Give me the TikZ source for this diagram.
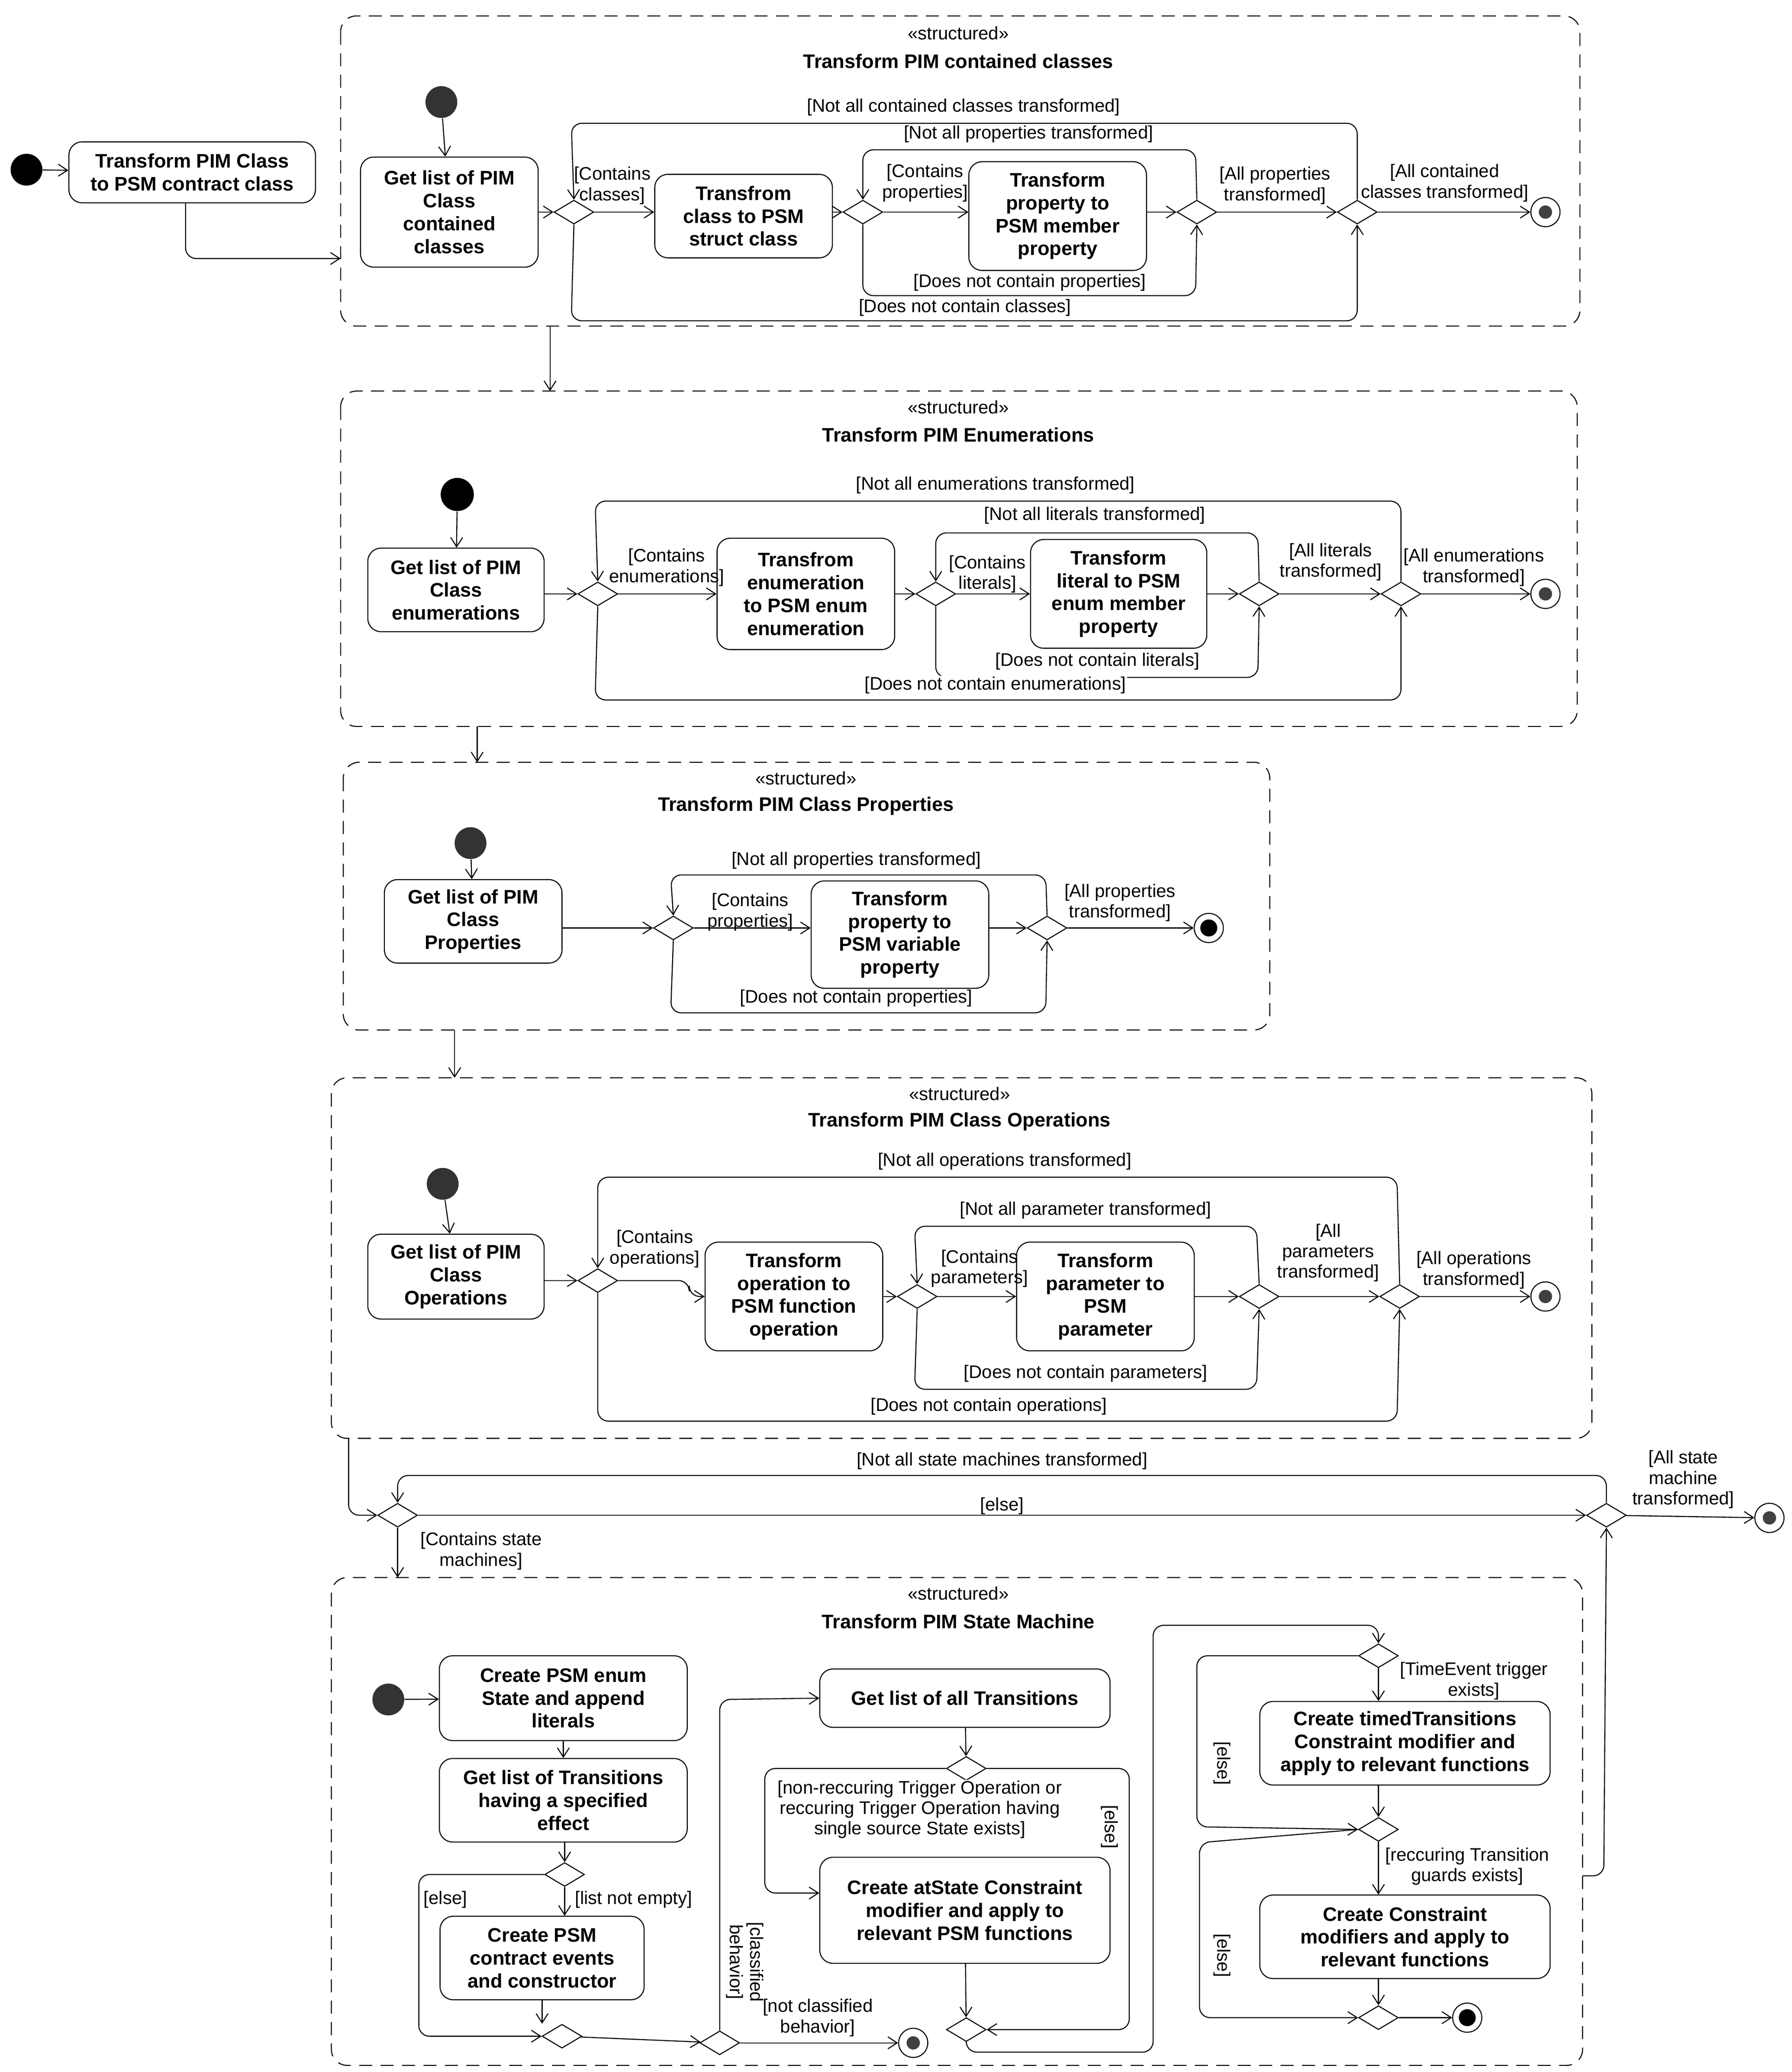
\documentclass[tikz,border=0pt]{standalone}
\usepackage{fontspec}
\setmainfont{Liberation Sans}
\usetikzlibrary{shapes.geometric,arrows.meta}
\begin{document}
\begin{tikzpicture}[x=0.05cm,y=-0.05cm,
 line width=1.1pt,
 flow/.style={-{Straight Barb[length=0.35cm,width=0.45cm]},rounded corners=0.4cm},
 act/.style 2 args={draw,rounded corners=0.5cm,align=center,inner sep=2pt,
   font=\fontsize{21}{24.5}\selectfont\bfseries,minimum width=#1*0.05cm,minimum height=#2*0.05cm},
 dec/.style={diamond,draw,fill=white,minimum width=1.5cm,minimum height=0.9cm,inner sep=0pt},
 init/.style={circle,fill=black!80,minimum size=1.2cm,inner sep=0pt},
 fin/.style={circle,draw,fill=white,minimum size=1.1cm,inner sep=0pt,
   path picture={\fill[black!75] (path picture bounding box.center) circle (0.25cm);}},
 finb/.style={circle,draw,fill=white,minimum size=1.1cm,inner sep=0pt,
   path picture={\fill[black] (path picture bounding box.center) circle (0.32cm);}},
 region/.style={draw,dashed,dash pattern=on 14pt off 9pt,rounded corners=0.6cm},
 lab/.style={align=center,font=\fontsize{19.5}{22}\selectfont,inner sep=1pt},
 ster/.style={font=\fontsize{19.5}{22}\selectfont},
 ttl/.style={font=\fontsize{21}{24}\selectfont\bfseries}
]
\useasboundingbox (0,0) rectangle (1352,1563);

% ---------- top
\node[circle,fill=black,minimum size=1.2cm,inner sep=0] (i0) at (20,128) {};
\node[act={186}{46}] (b0) at (145,130) {Transform PIM Class\\to PSM contract class};
\draw[flow] (i0) -- (b0);

% ---------- region 1
\draw[region] (257,12) rectangle (1192,246);
\node[coordinate] (r1) at (724,129) {};
\node[ster] (s1) at (723,25) {«structured»};
\node[ttl] (t1) at (723,46) {Transform PIM contained classes};
\draw[flow] (b0.south -| 140,0) |- (257,195);
\node[init] (i1) at (333,77) {};
\node[act={134}{83}] (b1) at (339,160) {Get list of PIM\\Class\\contained\\classes};
\draw[flow] (i1) -- (b1);
\node[dec] (d1) at (433,160) {};
\node[act={134}{63}] (b2) at (561,163) {Transfrom\\class to PSM\\struct class};
\node[dec] (d2) at (651,160) {};
\node[act={134}{82}] (b3) at (798,163) {Transform\\property to\\PSM member\\property};
\node[dec] (d3) at (903,160) {};
\node[dec] (d4) at (1024,160) {};
\node[fin] (f1) at (1166,160) {};
\draw[flow] (b1.east |- d1) -- (d1);
\draw[flow] (d1) -- (d1 -| b2.west);
\draw[flow] (b2.east |- d2) -- (d2);
\draw[flow] (d2) -- (d2 -| b3.west);
\draw[flow] (b3.east |- d3) -- (d3);
\draw[flow] (d3) -- (d4);
\draw[flow] (d4) -- (f1);
\draw[flow] (d4.north) -- (1024,93) -- (431,93) -- (d1.north);
\draw[flow] (d1.south) -- (431,242) -- (1024,242) -- (d4.south);
\draw[flow] (d3.north) -- (902,113) -- (651,113) -- (d2.north);
\draw[flow] (d2.south) -- (651,223) -- (902,223) -- (d3.south);
\node[lab] at (727,81) {[Not all contained classes transformed]};
\node[lab] at (776,101) {[Not all properties transformed]};
\node[lab] at (462,140) {[Contains\\classes]};
\node[lab] at (698,138) {[Contains\\properties]};
\node[lab] at (962,140) {[All properties\\transformed]};
\node[lab] at (1090,138) {[All contained\\classes transformed]};
\node[lab,fill=white] at (777,213) {[Does not contain properties]};
\node[lab,fill=white] at (728,232) {[Does not contain classes]};

% ---------- region 2
\draw[region] (257,295) rectangle (1190,548);
\draw[flow] (415,246) -- (415,295);
\node[ster] at (723,307) {«structured»};
\node[ttl] at (723,328) {Transform PIM Enumerations};
\node[circle,fill=black,minimum size=1.25cm,inner sep=0] (i2) at (345,373) {};
\node[act={133}{63}] (b4) at (344,445) {Get list of PIM\\Class\\enumerations};
\draw[flow] (i2) -- (b4);
\node[dec] (d5) at (451,448) {};
\node[act={134}{84}] (b5) at (608,448) {Transfrom\\enumeration\\to PSM enum\\enumeration};
\node[dec] (d6) at (706,448) {};
\node[act={133}{82}] (b6) at (844,448) {Transform\\literal to PSM\\enum member\\property};
\node[dec] (d7) at (950,448) {};
\node[dec] (d8) at (1057,448) {};
\node[fin] (f2) at (1166,448) {};
\draw[flow] (b4.east |- d5) -- (d5);
\draw[flow] (d5) -- (b5);
\draw[flow] (b5) -- (d6);
\draw[flow] (d6) -- (b6);
\draw[flow] (b6) -- (d7);
\draw[flow] (d7) -- (d8);
\draw[flow] (d8) -- (f2);
\draw[flow] (d8.north) -- (1057,378) -- (449,378) -- (d5.north);
\draw[flow] (d5.south) -- (449,528) -- (1057,528) -- (d8.south);
\draw[flow] (d7.north) -- (949,402) -- (706,402) -- (d6.north);
\draw[flow] (d6.south) -- (706,511) -- (949,511) -- (d7.south);
\node[lab] at (751,366) {[Not all enumerations transformed]};
\node[lab] at (826,389) {[Not all literals transformed]};
\node[lab] at (503,428) {[Contains\\enumerations]};
\node[lab] at (745,433) {[Contains\\literals]};
\node[lab] at (1004,424) {[All literals\\transformed]};
\node[lab] at (1112,428) {[All enumerations\\transformed]};
\node[lab,fill=white] at (828,499) {[Does not contain literals]};
\node[lab,fill=white] at (751,517) {[Does not contain enumerations]};

% ---------- region 3
\draw[region] (259,575) rectangle (958,777);
\draw[flow] (360,548) -- (360,575);
\node[ster] at (608,587) {«structured»};
\node[ttl] at (608,608) {Transform PIM Class Properties};
\node[init] (i3) at (355,636) {};
\node[act={134}{63}] (b7) at (357,695) {Get list of PIM\\Class\\Properties};
\draw[flow] (i3) -- (b7);
\node[dec] (d9) at (508,700) {};
\node[act={134}{81}] (b8) at (679,705) {Transform\\property to\\PSM variable\\property};
\node[dec] (d10) at (790,700) {};
\node[finb] (f3) at (912,700) {};
\draw[flow] (b7.east |- d9) -- (d9);
\draw[flow] (d9) -- (d9 -| b8.west);
\draw[flow] (b8.east |- d10) -- (d10);
\draw[flow] (d10) -- (f3);
\draw[flow] (d10.north) -- (789,660) -- (506,660) -- (d9.north);
\draw[flow] (d9.south) -- (506,764) -- (789,764) -- (d10.south);
\node[lab] at (646,649) {[Not all properties transformed]};
\node[lab] at (566,688) {[Contains\\properties]};
\node[lab] at (845,681) {[All properties\\transformed]};
\node[lab,fill=white] at (646,753) {[Does not contain properties]};

% ---------- region 4
\draw[region] (250,813) rectangle (1201,1085);
\draw[flow] (343,777) -- (343,813);
\node[ster] at (724,825) {«structured»};
\node[ttl] at (724,846) {Transform PIM Class Operations};
\node[init] (i4) at (334,893) {};
\node[act={133}{64}] (b9) at (344,963) {Get list of PIM\\Class\\Operations};
\draw[flow] (i4) -- (b9);
\node[dec] (d11) at (451,966) {};
\node[act={134}{82}] (b10) at (599,978) {Transform\\operation to\\PSM function\\operation};
\node[dec] (d12) at (692,978) {};
\node[act={134}{82}] (b11) at (834,978) {Transform\\parameter to\\PSM\\parameter};
\node[dec] (d13) at (950,978) {};
\node[dec] (d14) at (1056,978) {};
\node[fin] (f4) at (1166,978) {};
\draw[flow] (b9.east |- d11) -- (d11);
\draw[flow] (d11.east) -- (520,966) -- (520,978) -- (b10.west);
\draw[flow] (b10) -- (d12);
\draw[flow] (d12) -- (b11);
\draw[flow] (b11) -- (d13);
\draw[flow] (d13) -- (d14);
\draw[flow] (d14) -- (f4);
\draw[flow] (d14.north) -- (1054,888) -- (451,888) -- (d11.north);
\draw[flow] (d11.south) -- (451,1072) -- (1054,1072) -- (d14.south);
\draw[flow] (d13.north) -- (948,925) -- (690,925) -- (d12.north);
\draw[flow] (d12.south) -- (690,1048) -- (948,1048) -- (d13.south);
\node[lab] at (758,876) {[Not all operations transformed]};
\node[lab] at (819,913) {[Not all parameter transformed]};
\node[lab] at (494,942) {[Contains\\operations]};
\node[lab] at (739,957) {[Contains\\parameters]};
\node[lab] at (1002,945) {[All\\parameters\\transformed]};
\node[lab] at (1112,958) {[All operations\\transformed]};
\node[lab,fill=white] at (819,1036) {[Does not contain parameters]};
\node[lab,fill=white] at (746,1061) {[Does not contain operations]};

% ---------- state machines loop
\node[dec] (d15) at (300,1143) {};
\node[dec] (d16) at (1212,1143) {};
\node[fin] (f7) at (1335,1145) {};
\draw[flow] (263,1085) -- (263,1143) -- (d15.west);
\draw[flow] (d15) -- (d16);
\draw[flow] (d16.north) -- (1212,1113) -- (300,1113) -- (d15.north);
\draw[flow] (d16) -- (f7);
\draw[flow] (d15.south) -- (300,1190);
\node[lab] at (756,1102) {[Not all state machines transformed]};
\node[lab] at (756,1136) {[else]};
\node[lab] at (1270,1116) {[All state\\machine\\transformed]};
\node[lab] at (363,1170) {[Contains state\\machines]};

% ---------- region 5
\draw[region] (250,1190) rectangle (1194,1558);
\node[ster] at (723,1202) {«structured»};
\node[ttl] at (723,1223) {Transform PIM State Machine};
\node[init] (i5) at (293,1282) {};
\node[act={187}{64}] (c1) at (425,1281) {Create PSM enum\\State and append\\literals};
\node[act={187}{63}] (c2) at (425,1358) {Get list of Transitions\\having a specified\\effect};
\node[dec] (d17) at (426,1414) {};
\node[act={154}{63}] (c3) at (409,1477) {Create PSM\\contract events\\and constructor};
\node[dec] (d18) at (424,1536) {};
\node[dec] (d19) at (543,1541) {};
\node[fin] (f5) at (689,1541) {};
\draw[flow] (i5) -- (c1);
\draw[flow] (c1) -- (c2);
\draw[flow] (c2.south -| d17) -- (d17);
\draw[flow] (d17) -- (d17 |- c3.north);
\draw[flow] (d17.west) -- (316,1414) -- (316,1536) -- (d18.west);
\draw[flow] (c3.south) -- (c3.south |- d18.north);
\draw[flow] (d18) -- (d19);
\draw[flow] (d19) -- (f5);
\node[lab] at (336,1433) {[else]};
\node[lab] at (478,1433) {[list not empty]};
\node[lab] at (617,1522) {[not classified\\behavior]};
\node[lab,rotate=-90] at (562,1480) {[classified\\behavior]};
\node[act={219}{44}] (c4) at (728,1281) {Get list of all Transitions};
\draw[flow] (d19.north) -- (543,1282) -- (c4.west);
\node[dec] (d20) at (729,1334) {};
\node[act={219}{80}] (c5) at (728,1441) {Create atState Constraint\\modifier and apply to\\relevant PSM functions};
\node[dec] (d21) at (729,1531) {};
\draw[flow] (c4) -- (d20);
\draw[flow] (d20.west) -- (577,1334) -- (577,1428) -- (c5.west |- 0,1428);
\draw[flow] (d20.east) -- (852,1334) -- (852,1531) -- (d21.east);
\draw[flow] (c5) -- (d21);
\node[lab,fill=white] at (694,1365) {[non-reccuring Trigger Operation or\\reccuring Trigger Operation having\\single source State exists]};
\node[lab,rotate=-90] at (837,1378) {[else]};
\node[dec] (d22) at (1040,1249) {};
\node[act={219}{63}] (c6) at (1060,1315) {Create timedTransitions\\Constraint modifier and\\apply to relevant functions};
\node[dec] (d23) at (1040,1380) {};
\node[act={219}{63}] (c7) at (1060,1461) {Create Constraint\\modifiers and apply to\\relevant functions};
\node[dec] (d24) at (1040,1522) {};
\node[finb] (f6) at (1107,1522) {};
\draw[flow] (d21.south) -- (729,1548) -- (870,1548) -- (870,1226) -- (1040,1226) -- (d22.north);
\draw[flow] (d22) -- (d22 |- c6.north);
\draw[flow] (d22.west) -- (903,1249) -- (903,1378) -- (d23.west);
\draw[flow] (d22 |- c6.south) -- (d23);
\draw[flow] (d23) -- (d23 |- c7.north);
\draw[flow] (d23.west) -- (905,1390) -- (905,1522) -- (d24.west);
\draw[flow] (d24 |- c7.south) -- (d24);
\draw[flow] (d24) -- (f6);
\draw[flow] (1194,1415) -- (1210,1415) -- (d16.south);
\node[lab] at (1112,1268) {[TimeEvent trigger\\exists]};
\node[lab] at (1107,1408) {[reccuring Transition\\guards exists]};
\node[lab,rotate=-90] at (922,1330) {[else]};
\node[lab,rotate=-90] at (922,1475) {[else]};
\end{tikzpicture}
\end{document}
